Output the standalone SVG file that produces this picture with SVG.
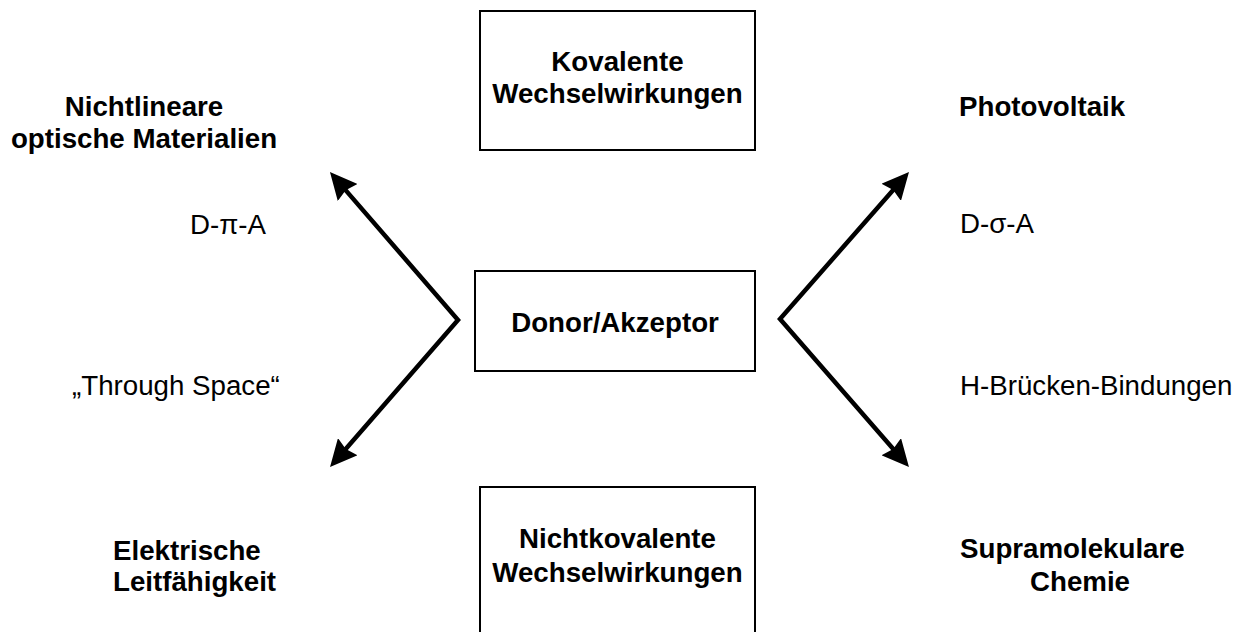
<svg xmlns="http://www.w3.org/2000/svg" width="1243" height="632" viewBox="0 0 1243 632">
<defs>
<style>
text{font-family:"Liberation Sans",Arial,sans-serif;font-size:27.7px;fill:#000}
.b{font-weight:bold}
.c{text-anchor:middle}
.box{fill:#fff;stroke:#000;stroke-width:2}
.arr{fill:none;stroke:#000;stroke-width:4.5;stroke-linejoin:miter;stroke-miterlimit:10;marker-start:url(#ah);marker-end:url(#ah)}
</style>
<marker id="ah" markerUnits="userSpaceOnUse" markerWidth="27" markerHeight="26" viewBox="0 0 27 26" refX="17" refY="13" orient="auto-start-reverse">
<path d="M0,0 L27,13 L0,26 L3,13 Z" fill="#000"/>
</marker>
</defs>
<rect width="1243" height="632" fill="#fff"/>
<g id="connectors">
<path class="arr" d="M336.5,179.6 L458,320 L336.6,459.5"/>
<path class="arr" d="M902.4,179.5 L780,319 L902.4,459.5"/>
</g>
<g id="kovalente">
<rect class="box" x="480" y="11" width="275" height="139"/>
<text class="b c" x="617.5" y="71">Kovalente</text>
<text class="b c" x="617.5" y="103">Wechselwirkungen</text>
</g>
<g id="donor-akzeptor">
<rect class="box" x="475" y="271" width="280" height="100"/>
<text class="b c" x="615" y="332">Donor/Akzeptor</text>
</g>
<g id="nichtkovalente">
<rect class="box" x="480" y="487" width="275" height="160"/>
<text class="b c" x="617.5" y="548">Nichtkovalente</text>
<text class="b c" x="617.5" y="582">Wechselwirkungen</text>
</g>
<g id="nlo">
<text class="b c" x="144" y="116">Nichtlineare</text>
<text class="b c" x="144" y="148">optische Materialien</text>
</g>
<g id="photovoltaik">
<text class="b" x="959" y="116">Photovoltaik</text>
</g>
<g id="leitfaehigkeit">
<text class="b" x="113" y="560">Elektrische</text>
<text class="b" x="113" y="591">Leitfähigkeit</text>
</g>
<g id="supramolekular">
<text class="b" x="960" y="558">Supramolekulare</text>
<text class="b" x="1030" y="591">Chemie</text>
</g>
<g id="labels">
<text x="190" y="234">D-π-A</text>
<text x="960" y="233">D-σ-A</text>
<text x="72" y="395">„Through Space“</text>
<text x="960" y="395">H-Brücken-Bindungen</text>
</g>
</svg>
